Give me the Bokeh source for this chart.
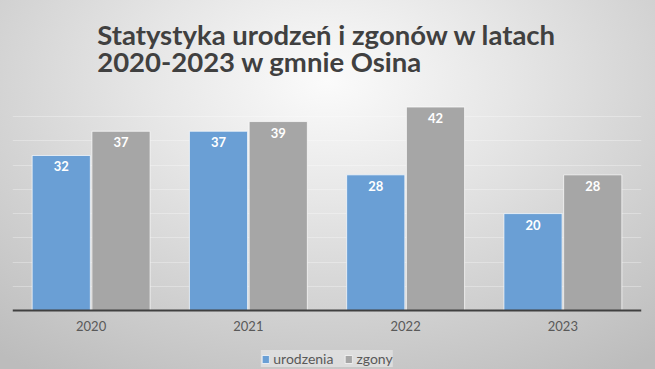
from bokeh.plotting import figure
from bokeh.models import ColumnDataSource, FactorRange, Range1d, Legend, LegendItem, FixedTicker
from bokeh.transform import dodge
from bokeh.core.properties import value
from bokeh.embed import file_html
from bokeh.resources import INLINE

years = ["2020", "2021", "2022", "2023"]
urodzenia = [32, 37, 28, 20]
zgony = [37, 39, 42, 28]
series_names = ["urodzenia", "zgony"]
y_ticks = [0, 5, 10, 15, 20, 25, 30, 35, 40, 45]
title_text = "Statystyka urodzeń i zgonów w latach\n2020-2023 w gmnie Osina"

src = ColumnDataSource(dict(
    years=years,
    urodzenia=urodzenia,
    zgony=zgony,
    ulab=[str(v) for v in urodzenia],
    zlab=[str(v) for v in zgony],
))

FONT = "Lato"
BLUE = "#6a9fd5"
GRAY = "#a6a6a6"

p = figure(width=655, height=369, x_range=FactorRange(*years, range_padding=0),
           y_range=Range1d(-12.18, 45), output_backend="svg", toolbar_location=None,
           min_border_left=12, min_border_right=14, min_border_top=92, min_border_bottom=0)

p.styles = {"background": "radial-gradient(ellipse 80% 95% at 50% 22%, #fbfbfb 0%, #e6e6e6 35%, #cfcfcf 70%, #bcbcbc 100%)"}
p.background_fill_alpha = 0
p.border_fill_alpha = 0
p.outline_line_color = None

p.title.text = title_text
p.title.align = "center"
p.title.text_font = FONT
p.title.text_font_size = "27.5px"
p.title.text_font_style = "bold"
p.title.text_color = "#404040"
p.title.text_line_height = 0.82
p.title.standoff = 28

b1 = p.vbar(x=dodge("years", -0.19, range=p.x_range), top="urodzenia", width=0.37, source=src,
            fill_color=BLUE, line_color="white", line_alpha=0.7, line_width=1)
b2 = p.vbar(x=dodge("years", 0.19, range=p.x_range), top="zgony", width=0.37, source=src,
            fill_color=GRAY, line_color="white", line_alpha=0.7, line_width=1)

for off, ycol, lab in [(-0.19, "urodzenia", "ulab"), (0.19, "zgony", "zlab")]:
    p.text(x=dodge("years", off, range=p.x_range), y=ycol, text=lab, source=src,
           text_align="center", text_baseline="top", y_offset=6,
           text_color="white", text_font=value(FONT), text_font_style="bold",
           text_font_size="13px")

p.yaxis.visible = False
p.yaxis.ticker = FixedTicker(ticks=y_ticks)
p.xaxis.fixed_location = 0
p.xaxis.axis_line_color = "#404040"
p.xaxis.axis_line_width = 2
p.xaxis.major_tick_line_color = None
p.xaxis.minor_tick_line_color = None
p.xaxis.major_label_text_color = "#595959"
p.xaxis.major_label_text_font = FONT
p.xaxis.major_label_text_font_size = "13px"
p.xaxis.major_label_standoff = 5

p.xgrid.grid_line_color = None
p.ygrid.grid_line_color = "#ffffff"
p.ygrid.grid_line_alpha = 0.3

legend = Legend(items=[LegendItem(label=series_names[0], renderers=[b1]),
                       LegendItem(label=series_names[1], renderers=[b2])],
                orientation="horizontal", location="bottom_center",
                label_text_font=FONT, label_text_font_size="14px", label_text_color="#595959",
                glyph_width=9, glyph_height=10, spacing=10, padding=7, margin=2,
                label_standoff=4, label_height=15,
                background_fill_color="#ebebeb", background_fill_alpha=0.6,
                border_line_color=None)
p.add_layout(legend, "center")

open("out.html", "w").write(file_html(p, INLINE))
